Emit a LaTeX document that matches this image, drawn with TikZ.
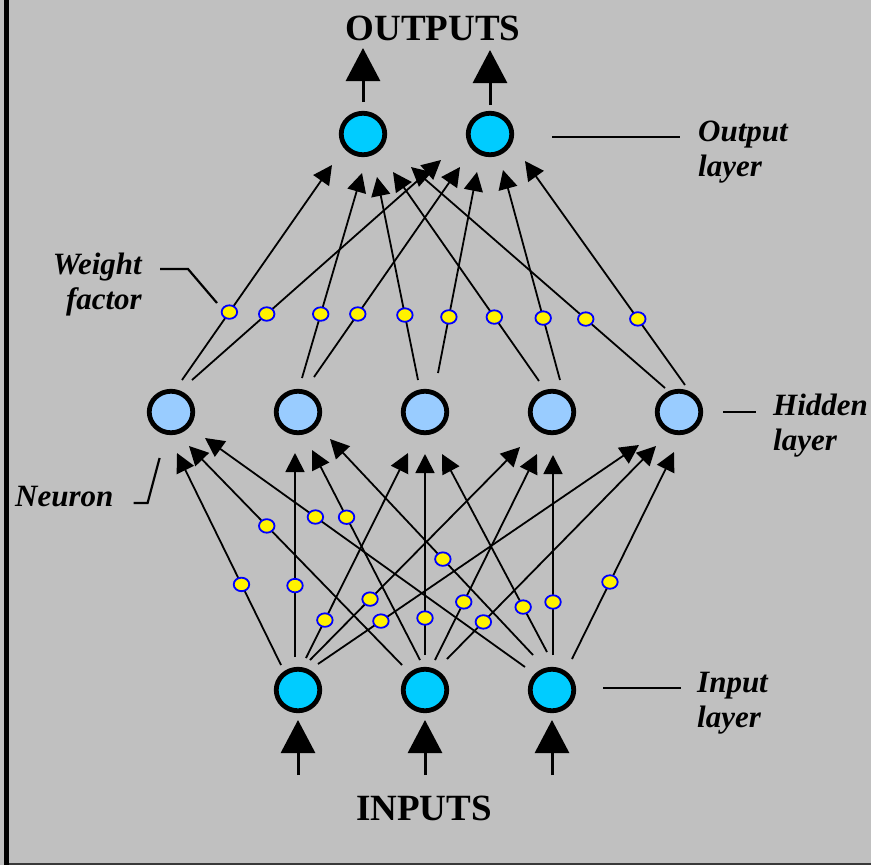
\documentclass[tikz,border=0pt]{standalone}
\usepackage{fontspec}
\setmainfont{Liberation Serif}
\usetikzlibrary{arrows.meta,calc,shapes.geometric}

\definecolor{bggray}{HTML}{C0C0C0}
\definecolor{outcyan}{HTML}{00CCFF}
\definecolor{hidblue}{HTML}{99CCFF}

\begin{document}
\begin{tikzpicture}[
        x=1pt, y=-1pt,
        neuron/.style = {ellipse, draw=black, line width=4.8pt, fill=#1, minimum width=43.5pt, minimum height=41.5pt, inner sep=0pt, node contents={}},
        weight/.style = {ellipse, draw=blue, fill=yellow, line width=1.8pt, minimum width=15.5pt, minimum height=13.5pt, inner sep=0pt},
        conn/.style = {line width=1.8pt, -{Triangle[length=19pt,width=19pt]}},
        bigarrow/.style = {line width=3pt, -{Triangle[length=33pt,width=34pt]}},
        lead/.style = {line width=2.2pt},
        layerlbl/.style = {font=\fontsize{31}{35}\selectfont\bfseries\itshape, inner sep=0pt},
        iolbl/.style = {font=\fontsize{37}{40}\selectfont\bfseries, inner sep=0pt}
        ]

        \useasboundingbox (0,0) rectangle (871,865);
        \fill[bggray] (0,0) rectangle (871,865);
        \fill[black] (4,0) rectangle (9,865);
        \draw[gray!45!black, line width=1.5pt] (9,864) -- (871,864);

        % neurons
        \node (O1) at (363,134) [neuron=outcyan];
        \node (O2) at (490,134) [neuron=outcyan];
        \foreach \n/\x in {1/171, 2/298, 3/425, 4/552, 5/679}
            \node (H\n) at (\x,412) [neuron=hidblue];
        \foreach \n/\x in {1/298, 2/425, 3/552}
            \node (I\n) at (\x,690) [neuron=outcyan];

        % input -> hidden
        \foreach \a/\sx/\sy/\b/\tx/\ty/\p in {
                I1/-17/-25/H1/6/41/0.38,   I1/-3/-33/H2/-3/41/0.35,   I1/8/-32/H3/-17/41/0.185,
                I1/12/-30/H4/-32/35/0.286, I1/20/-26/H5/-40/33/0.196,
                I2/-23/-25/H1/18/34/0.635, I2/-5/-30/H2/14/38/0.68,   I2/0/-35/H3/0/42/0.184,
                I2/10/-30/H4/-15/42/0.282, I2/22/-31/H5/-23/34/0.174,
                I3/-27/-23/H1/34/26/0.655, I3/-19/-35/H2/32/27/0.444, I3/-5/-38/H3/17/42/0.227,
                I3/1/-35/H4/1/43/0.265,    I3/20/-31/H5/-5/40/0.372}
            \draw[conn] ($(\a.center)+(\sx,\sy)$) -- node[weight, pos=\p] {} ($(\b.center)+(\tx,\ty)$);

        % hidden -> output
        \foreach \a/\sx/\sy/\b/\tx/\ty/\p in {
                H1/11/-32/O1/-31/31/0.316, H1/21/-32/O2/-49/26/0.30,
                H2/4/-34/O1/-1/39/0.312,   H2/16/-35/O2/-30/33/0.30,
                H3/-7/-32/O1/14/43/0.32,   H3/13/-39/O2/-13/38/0.279,
                H4/-13/-31/O1/30/38/0.306, H4/8/-32/O2/13/36/0.295,
                H5/-14/-24/O1/48/33/0.312, H5/6/-27/O2/35/27/0.295}
            \draw[conn] ($(\a.center)+(\sx,\sy)$) -- node[weight, pos=\p] {} ($(\b.center)+(\tx,\ty)$);

        % inputs and outputs
        \coordinate (out1) at (363,48);
        \coordinate (out2) at (490,50);
        \draw[bigarrow, shorten <=32pt] (O1.center) -- (out1);
        \draw[bigarrow, shorten <=29pt] (O2.center) -- (out2);
        \foreach \n/\x in {1/298, 2/425, 3/552} {
            \coordinate (in\n) at (\x,775);
            \draw[bigarrow, shorten >=30pt] (in\n) -- (I\n.center);
        }
        \node[iolbl, anchor=base] (outputs) at (433,40) {OUTPUTS};
        \node[iolbl, anchor=base] (inputs) at (424,820) {INPUTS};

        % labels
        \node[layerlbl, align=left, anchor=north west] (outlbl) at (698,121) {Output\\layer};
        \node[layerlbl, align=left, anchor=north west] (hidlbl) at (773,394) {Hidden\\layer};
        \node[layerlbl, align=left, anchor=north west] (inlbl) at (697,672) {Input\\layer};
        \node[layerlbl, align=right, anchor=north east] (wlbl) at (142,253) {Weight\\factor};
        \node[layerlbl, anchor=base west] (nlbl) at (15,506) {Neuron};

        \draw[lead] ($(O2.center)+(62,3)$) -- ++(128,0);
        \draw[lead] ($(H5.center)+(44,0)$) -- ++(33,0);
        \draw[lead] ($(I3.center)+(51,-2)$) -- ++(78,0);
        \draw[lead] ($(wlbl.north east)+(18,16)$) -- ++(28,0) -- ++(29,34);
        \draw[lead] ($(nlbl.base east)+(20,-3)$) -- ++(14,0) -- ++(12,-45);

    \end{tikzpicture}
\end{document}
